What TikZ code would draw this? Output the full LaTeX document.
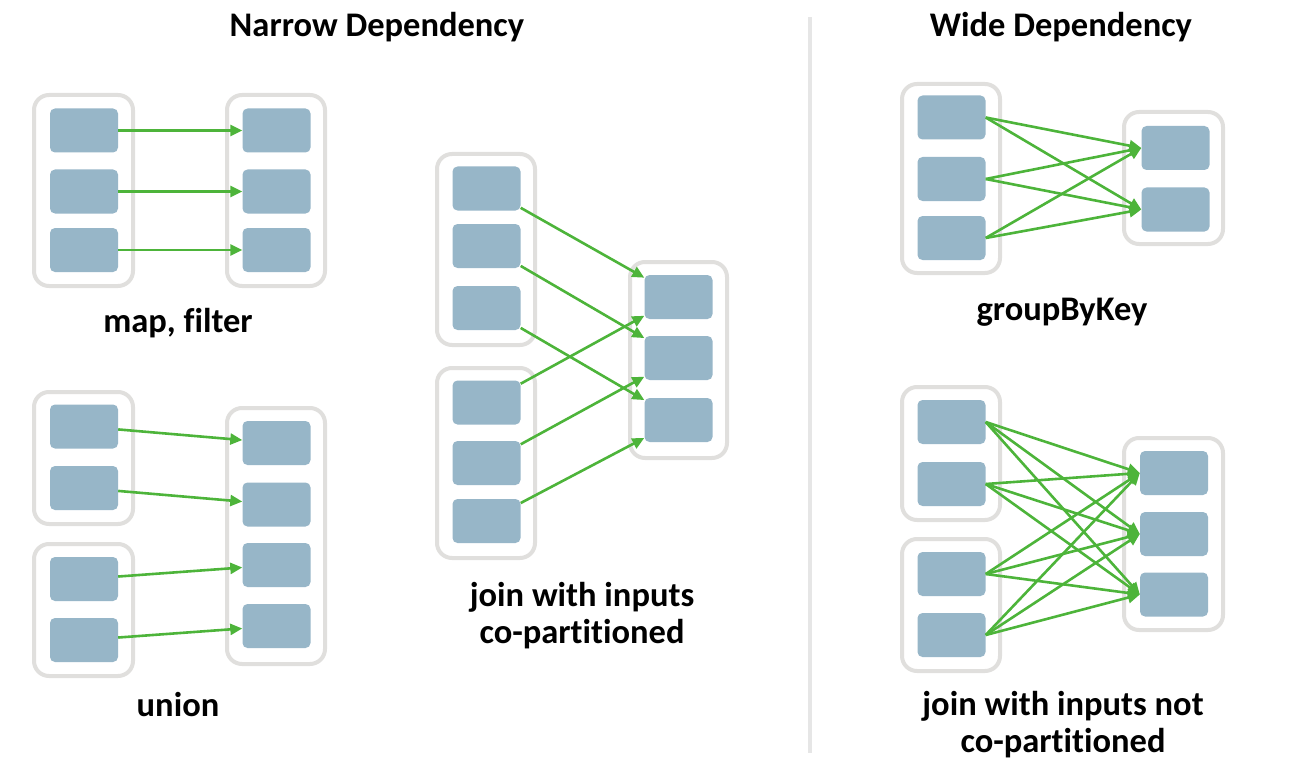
\documentclass[tikz,border=0pt]{standalone}
\usepackage{fontspec}
\setmainfont{Carlito}[RawFeature={-liga;-dlig}]
\usetikzlibrary{arrows.meta}
\definecolor{partc}{HTML}{97B6C8}
\definecolor{contc}{HTML}{E0DFDD}
\definecolor{arrc}{HTML}{4DB43A}
\definecolor{divc}{HTML}{E6E6E6}
\begin{document}
\begin{tikzpicture}[x=1pt,y=-1pt,
  part/.style={fill=partc,draw=none,rounded corners=5pt,minimum width=68pt,minimum height=44pt,inner sep=0pt},
  cont/.style={draw=contc,line width=4pt,fill=white,rounded corners=15pt,inner sep=0pt},
  dep/.style={draw=arrc,line width=2.6pt,-{Triangle[length=12pt,width=11pt]}},
  lbl/.style={font=\fontsize{34.5}{37}\selectfont\bfseries,align=center,inner sep=0pt,anchor=base}
]
\useasboundingbox (0,0) rectangle (1292,770);
% divider
\draw[divc,line width=4pt] (809.5,17) -- (809.5,753);
% titles
\node[lbl] (t1) at (377,37) {Narrow Dependency};
\node[lbl] (t2) at (1061,37) {Wide Dependency};

% ---------- map, filter
\node[cont,minimum width=99pt,minimum height=191pt] (mfL) at (83.5,190.5) {};
\node[cont,minimum width=98pt,minimum height=191pt] (mfR) at (276,190.5) {};
\foreach \i/\y in {1/130.5,2/191.5,3/250}{
  \node[part] (mfa\i) at (84,\y) {};
  \node[part] (mfb\i) at (276.5,\y) {};
  \draw[dep] (mfa\i) -- (mfb\i);
}
\node[lbl] (mflbl) at (178,332) {map, filter};

% ---------- union
\node[cont,minimum width=99pt,minimum height=132pt] (unL1) at (83.5,458) {};
\node[cont,minimum width=99pt,minimum height=132pt] (unL2) at (83.5,610) {};
\node[cont,minimum width=98pt,minimum height=256pt] (unR) at (276,536) {};
\foreach \i/\y in {1/426.5,2/488,3/579,4/640}{
  \node[part] (una\i) at (84,\y) {};
}
\foreach \i/\y in {1/443,2/504.5,3/565,4/626}{
  \node[part] (unb\i) at (276.5,\y) {};
}
\foreach \i in {1,2,3,4}{\draw[dep] (una\i) -- (unb\i);}
\node[lbl] (unlbl) at (178,716) {union};

% ---------- join co-partitioned
\node[cont,minimum width=98pt,minimum height=191pt] (jcL1) at (486,249.5) {};
\node[cont,minimum width=98pt,minimum height=190pt] (jcL2) at (486,463) {};
\node[cont,minimum width=97pt,minimum height=196pt] (jcR) at (678.5,360) {};
\foreach \i/\y in {1/188.5,2/246,3/308}{\node[part] (jca\i) at (486.5,\y) {};}
\foreach \i/\y in {1/402.5,2/463,3/521}{\node[part] (jcc\i) at (486.5,\y) {};}
\foreach \i/\y in {1/297,2/358,3/420}{\node[part] (jcb\i) at (678.5,\y) {};}
\foreach \i in {1,2,3}{
  \draw[dep] (jca\i) -- (jcb\i);
  \draw[dep] (jcc\i) -- (jcb\i);
}
\node[lbl] (jclbl) at (582,643) {join with inputs\\co-partitioned};

% ---------- groupByKey
\node[cont,minimum width=98pt,minimum height=189pt] (gbL) at (951,178.5) {};
\node[cont,minimum width=99pt,minimum height=132pt] (gbR) at (1173.5,178) {};
\foreach \i/\y in {1/117.5,2/179,3/238}{\node[part] (gba\i) at (951.5,\y) {};}
\foreach \i/\y in {1/148,2/209.5}{\node[part] (gbb\i) at (1175.5,\y) {};}
\foreach \i in {1,2,3}{\foreach \j in {1,2}{\draw[dep] (gba\i.east) -- (gbb\j.west);}}
\node[lbl] (gblbl) at (1062,320) {groupByKey};

% ---------- join not co-partitioned
\node[cont,minimum width=98pt,minimum height=133pt] (jnL1) at (951,453.5) {};
\node[cont,minimum width=98pt,minimum height=132pt] (jnL2) at (951,605) {};
\node[cont,minimum width=99pt,minimum height=192pt] (jnR) at (1173.5,534) {};
\foreach \i/\y in {1/422,2/484,3/574,4/635}{\node[part] (jna\i) at (951.5,\y) {};}
\foreach \i/\y in {1/473,2/534,3/594.5}{\node[part] (jnb\i) at (1174,\y) {};}
\foreach \i in {1,2,3,4}{\foreach \j in {1,2,3}{\draw[dep] (jna\i.east) -- (jnb\j.west);}}
\node[lbl] (jnlbl) at (1063,752) {join with inputs not\\co-partitioned};
\end{tikzpicture}
\end{document}
